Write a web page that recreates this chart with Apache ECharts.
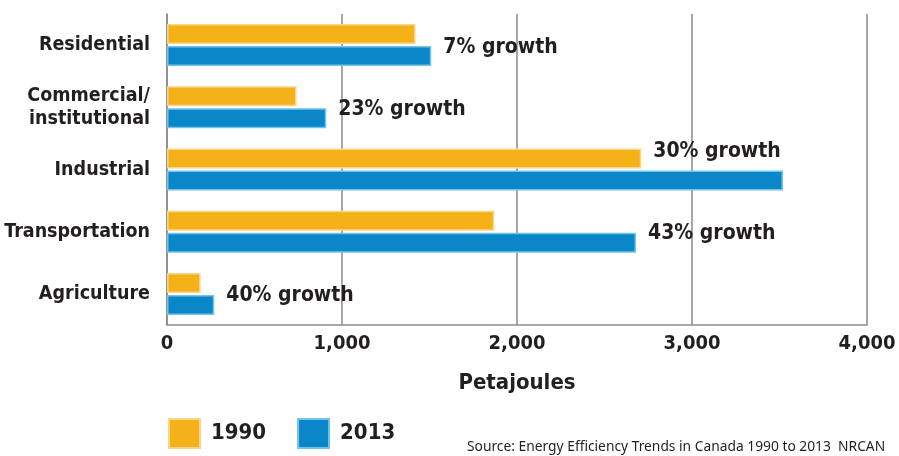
<!DOCTYPE html>
<html>
<head>
<meta charset="utf-8">
<script src="https://cdn.jsdelivr.net/npm/echarts@6/dist/echarts.min.js"></script>
<style>
  html, body { margin: 0; padding: 0; background: #ffffff; }
  #chart { width: 899px; height: 456px; }
</style>
</head>
<body>
<div id="chart"></div>
<script>
// Secondary energy use by sector, Canada (petajoules)
const sectors = ['Residential', 'Commercial/\ninstitutional', 'Industrial', 'Transportation', 'Agriculture'];
const use1990 = [1420, 740, 2710, 1870, 192];
const use2013 = [1510, 910, 3520, 2680, 270];
const growthPct = [7, 23, 30, 43, 40];
// which bar carries the growth note (the 1990 bar where the 2013 bar runs too long)
const growthOn = ['2013', '2013', '1990', '2013', '2013'];
const xTicks = [0, 1000, 2000, 3000, 4000];
const years = ['1990', '2013'];
const sourceNote = 'Source: Energy Efficiency Trends in Canada 1990 to 2013  NRCAN';

const boldFont = '"DejaVu Sans Condensed", "Liberation Sans Narrow", Arial, sans-serif';
const ink = '#231f20';
const gridGrey = '#8a8a8a';

function growthLabel(i, offset) {
  return {
    show: true,
    position: 'right',
    distance: 0,
    offset: offset,
    formatter: growthPct[i] + '% growth',
    color: ink,
    fontFamily: boldFont,
    fontWeight: 'bold',
    fontSize: 21
  };
}

function seriesData(values, year, offset) {
  return values.map((v, i) => {
    const item = { value: v };
    if (growthOn[i] === year) item.label = growthLabel(i, offset);
    return item;
  });
}

const chart = echarts.init(document.getElementById('chart'), null, { renderer: 'canvas' });

chart.setOption({
  backgroundColor: '#ffffff',
  animation: false,
  grid: { left: 167, right: 32, top: 14, bottom: 131, containLabel: false, outerBoundsMode: 'none' },
  xAxis: {
    type: 'value',
    min: xTicks[0],
    max: xTicks[xTicks.length - 1],
    interval: xTicks[1] - xTicks[0],
    name: 'Petajoules',
    nameLocation: 'middle',
    nameGap: 47,
    nameTextStyle: { color: ink, fontFamily: boldFont, fontWeight: 'bold', fontSize: 22 },
    axisLine: { show: true, lineStyle: { color: gridGrey, width: 1.5 } },
    axisTick: { show: false },
    splitLine: { show: true, lineStyle: { color: gridGrey, width: 1.5 } },
    axisLabel: {
      margin: 9,
      color: ink,
      fontFamily: boldFont,
      fontWeight: 'bold',
      fontSize: 20,
      formatter: v => v.toLocaleString('en-US')
    }
  },
  yAxis: {
    type: 'category',
    inverse: true,
    data: sectors,
    axisLine: { show: true, lineStyle: { color: gridGrey, width: 1.5 } },
    axisTick: { show: false },
    splitLine: { show: false },
    axisLabel: {
      margin: 17,
      color: ink,
      fontFamily: boldFont,
      fontWeight: 'bold',
      fontSize: 19.5,
      lineHeight: 23,
      align: 'right'
    }
  },
  legend: {
    left: 168,
    top: 418,
    padding: 0,
    itemWidth: 31,
    itemHeight: 29,
    itemGap: 31,
    icon: 'rect',
    data: years,
    textStyle: { color: ink, fontFamily: boldFont, fontWeight: 'bold', fontSize: 22, padding: [0, 0, 0, 6] }
  },
  series: [
    {
      name: years[0],
      type: 'bar',
      barWidth: 20,
      barGap: '10%',
      itemStyle: { color: '#f5b118', borderColor: '#f9d58a', borderWidth: 1.5 },
      data: seriesData(use1990, '1990', [12, -7])
    },
    {
      name: years[1],
      type: 'bar',
      barWidth: 20,
      itemStyle: { color: '#0a87c8', borderColor: '#74c4ea', borderWidth: 1.5 },
      data: seriesData(use2013, '2013', [12, -9])
    }
  ],
  graphic: [
    {
      type: 'text',
      left: 467,
      top: 440,
      style: {
        text: sourceNote,
        fill: ink,
        font: '13.8px "Noto Sans", "Liberation Sans", sans-serif'
      }
    }
  ]
});
</script>
</body>
</html>
